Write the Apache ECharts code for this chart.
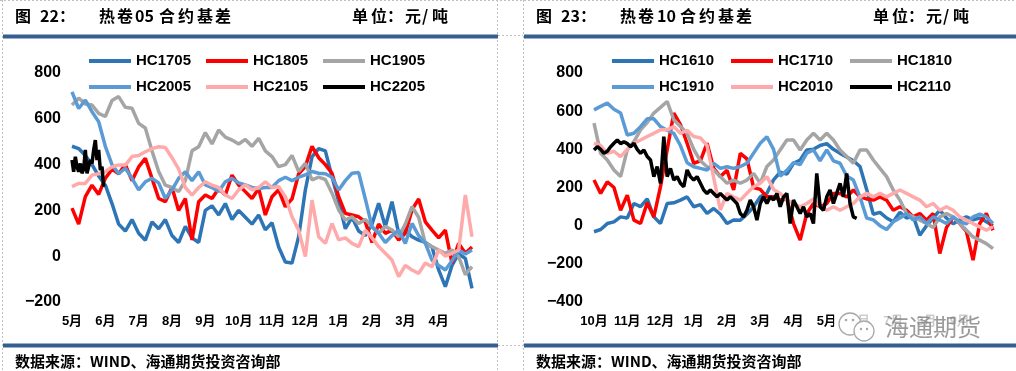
<!DOCTYPE html>
<html><head><meta charset="utf-8">
<script src="https://cdn.jsdelivr.net/npm/echarts@6/dist/echarts.min.js"></script>
<style>html,body{margin:0;padding:0;background:#fff;}#c{width:1016px;height:371px;}</style>
</head><body><div id="c"></div>
<script>
// ---------- data ----------
const monthsL = ['5月','6月','7月','8月','9月','10月','11月','12月','1月','2月','3月','4月'];
const monthsR = ['10月','11月','12月','1月','2月','3月','4月','5月','6月','7月','8月','9月'];
const namesL = ['HC1705','HC1805','HC1905','HC2005','HC2105','HC2205'];
const namesR = ['HC1610','HC1710','HC1810','HC1910','HC2010','HC2110'];

// left chart (05 contracts), one value every 0.2 month from 5月
const hc1705 = [480,470,440,400,350,310,230,140,110,160,
 100,70,150,120,160,90,60,130,80,60,
 200,220,180,230,160,200,170,140,180,115,
 146,40,-25,-30,85,289,434,470,460,347,
 240,120,170,110,90,140,231,129,238,100,
 114,85,70,60,40,-60,-133,-40,10,-10,-140];
const hc1805 = [210,140,260,310,270,340,380,360,400,330,
 390,427,340,252,238,300,200,252,71,238,
 267,252,296,267,354,311,282,252,296,180,
 260,290,216,250,360,391,480,430,400,362,
 260,187,180,172,150,60,140,100,114,71,
 100,202,250,150,114,80,114,-30,56,13,40];
const hc1905 = [660,690,665,660,624,610,680,697,650,646,
 580,560,460,370,310,300,282,330,460,478,
 540,490,551,520,507,490,510,480,515,460,
 435,391,400,440,370,406,333,345,335,275,
 202,158,172,143,160,129,100,130,114,85,
 140,216,170,56,42,27,13,27,-2,-80,-46];
const hc2005 = [718,645,682,631,587,480,400,360,384,340,
 290,325,340,320,252,290,340,369,330,369,
 311,300,282,325,340,320,311,300,296,300,
 300,330,345,330,345,355,370,362,360,345,
 289,330,362,365,250,129,100,60,90,114,
 56,143,90,56,-17,-40,-60,-20,27,10,27];
const hc2105 = [304,318,318,354,360,369,390,398,398,435,
 440,456,470,478,475,430,380,300,267,300,
 325,310,300,267,252,290,311,290,300,325,
 300,304,260,172,114,-2,245,85,56,143,
 71,80,56,42,114,80,42,13,-17,-89,
 -40,-60,-75,-30,-46,27,0,13,27,267,85];
// one value every 0.05 month
const hc2205 = [420,369,434,391,369,405,362,380,464,362,391,420,405,464,507,420,464,376,391,304];

// right chart (10 contracts), one value every 0.2 month from 10月
const hc1610 = [-32,-20,11,20,46,40,116,100,140,46,
 11,116,120,134,151,99,110,64,90,60,
 11,30,29,60,99,151,170,240,280,270,
 327,344,397,400,420,430,400,379,360,340,
 310,190,60,70,40,20,70,40,50,-50,
 0,40,81,40,10,30,46,30,40,20,0];
const hc1710 = [239,169,230,200,81,160,29,11,120,46,
 204,397,590,530,432,327,340,432,300,257,
 290,187,379,350,200,190,151,151,134,140,
 11,-76,64,116,99,116,169,169,150,187,
 151,140,134,151,134,81,99,81,46,64,
 29,64,-146,-10,46,11,-30,-181,11,64,-24];
const hc1810 = [537,379,344,292,257,397,440,502,540,590,
 620,651,555,520,484,400,340,309,292,257,
 222,239,222,239,274,222,310,344,397,449,
 449,397,449,484,449,484,449,397,362,327,
 397,397,344,300,257,187,134,64,46,29,
 11,-10,46,64,46,11,-24,-59,-76,-94,-120];
const hc1910 = [607,625,642,610,590,475,484,519,560,560,
 519,500,484,420,330,309,300,292,327,300,
 309,300,310,327,380,432,466,400,260,290,
 330,320,380,397,340,397,340,327,260,239,
 150,40,30,0,-20,20,40,64,30,46,
 11,46,30,11,46,20,10,46,60,46,11];
const hc2010 = [432,420,379,390,362,400,432,449,467,484,
 502,502,519,484,500,467,460,420,250,82,
 169,150,134,170,204,222,257,190,169,134,
 116,99,116,140,99,81,99,81,99,116,
 151,169,151,169,151,169,187,169,151,134,
 99,116,81,99,81,46,29,11,-6,-24,-6];
// one value every 0.1 month
const hc2110 = [397,414,400,379,390,414,432,449,430,440,
 430,414,432,400,379,397,362,344,257,310,
 222,466,257,300,239,257,222,204,292,257,
 239,257,222,187,169,187,169,151,169,151,
 134,151,134,116,64,46,81,134,99,29,
 116,151,116,151,134,169,99,151,169,11,
 134,99,64,99,46,64,11,274,99,81,
 151,187,116,169,222,151,274,116,46,38];

// ---------- styling / layout ----------
const FF = "'Liberation Sans','Noto Sans CJK SC',sans-serif";
const CJK = "'Noto Sans CJK SC','Liberation Sans',sans-serif";
const colors = ['#2E75B6','#FF0000','#A5A5A5','#5B9BD5','#FFAAAA','#000000'];
const dataL = [hc1705,hc1805,hc1905,hc2005,hc2105,hc2205];
const stepL = [0.2,0.2,0.2,0.2,0.2,0.05];
const dataR = [hc1610,hc1710,hc1810,hc1910,hc2010,hc2110];
const stepR = [0.2,0.2,0.2,0.2,0.2,0.1];

function pts(arr, step){ return arr.map((v,i)=>[Math.round(i*step*1000)/1000, v]); }

const series = [];
namesL.forEach((n,i)=>series.push({type:'line',name:n,xAxisIndex:0,yAxisIndex:0,data:pts(dataL[i],stepL[i]),
  showSymbol:false,symbol:'none',color:colors[i],lineStyle:{width:3.5,color:colors[i]},itemStyle:{color:colors[i]},z:2+i}));
namesR.forEach((n,i)=>series.push({type:'line',name:n,xAxisIndex:1,yAxisIndex:1,data:pts(dataR[i],stepR[i]),
  showSymbol:false,symbol:'none',color:colors[i],lineStyle:{width:3.5,color:colors[i]},itemStyle:{color:colors[i]},z:2+i}));

function mkX(gi, labels){
  return {type:'value',gridIndex:gi,min:0,max:12,interval:1,
    axisLine:{show:false},axisTick:{show:false},splitLine:{show:false},
    axisLabel:{margin:13,fontSize:13,fontWeight:'bold',color:'#000',fontFamily:FF,
      formatter:v=>labels[v]||''}};
}
function mkY(gi,min,max){
  return {type:'value',gridIndex:gi,min:min,max:max,interval:200,
    axisLine:{show:false},axisTick:{show:false},splitLine:{show:false},
    axisLabel:{margin:11,fontSize:16,fontWeight:'bold',color:'#000',fontFamily:FF,
      formatter:v=>String(v).replace('-','\u2212')}};
}
const legends = [];
function addLegend(name,left,top){
  legends.push({data:[{name:name,icon:'rect'}],left:left,top:top,padding:0,itemWidth:42,itemHeight:4,itemGap:0,
    selectedMode:false,textStyle:{fontSize:15,fontWeight:'bold',color:'#000',fontFamily:FF}});
}
const colL=[89,206,323], colR=[612,731,850], rows=[53.5,79.5];
namesL.forEach((n,i)=>addLegend(n,colL[i%3],rows[Math.floor(i/3)]));
namesR.forEach((n,i)=>addLegend(n,colR[i%3],rows[Math.floor(i/3)]));

const g = [];
function txt(t,x,y,size,opt){
  opt=opt||{};
  g.push({type:'text',x:x,y:y,z:opt.z||10,style:{text:t,font:(opt.weight||'bold')+' '+size+'px '+(opt.family||CJK),
    fill:opt.fill||'#000',textAlign:'left',textVerticalAlign:'middle',align:'left',verticalAlign:'middle'}});
}
function rect(x,y,w,h,fill,z){ g.push({type:'rect',z:z||5,shape:{x:x,y:y,width:w,height:h},style:{fill:fill}}); }
function dline(x1,y1,x2,y2){ g.push({type:'line',z:1,shape:{x1:x1,y1:y1,x2:x2,y2:y2},style:{stroke:'#BFBFBF',lineWidth:1,lineDash:[2,2]}}); }

// cell borders
dline(0,0.5,1016,0.5);
dline(2.5,0,2.5,371);
dline(497.5,0,497.5,371);
dline(523.5,0,523.5,371);
dline(498,35.5,523,35.5);
dline(498,345.5,523,345.5);
// blue rules
rect(3,34.5,495,4,'#365F91');
rect(524,34.5,492,4,'#365F91');
rect(3,343.5,495,4,'#365F91');
rect(524,343.5,492,4,'#365F91');

// titles
[['图',15],['22：',40],['热',99],['卷',117],['05',135],['合',159],['约',178],['基',197],['差',215],
 ['单',352],['位',371],['：',387],['元',405],['/',422],['吨',432]].forEach(p=>txt(p[0],p[1],16,16));
[['图',536],['23：',561],['热',620],['卷',638],['10',657],['合',680],['约',699],['基',718],['差',736],
 ['单',873],['位',892],['：',908],['元',926],['/',943],['吨',953]].forEach(p=>txt(p[0],p[1],16,16));
// sources
txt('数据来源：WIND、海通期货投资咨询部',15,361,15);
txt('数据来源：WIND、海通期货投资咨询部',536,361,15);

// watermark
rect(834,310,156,33,'rgba(255,255,255,0.8)',50);
g.push({type:'circle',z:51,shape:{cx:850,cy:324,r:11},style:{fill:'rgba(255,255,255,0.9)',stroke:'#A8A8A8',lineWidth:1.3}});
g.push({type:'circle',z:52,shape:{cx:864,cy:331,r:10},style:{fill:'rgba(255,255,255,0.95)',stroke:'#A8A8A8',lineWidth:1.3}});
g.push({type:'circle',z:53,shape:{cx:846,cy:320,r:1.3},style:{fill:'#A8A8A8'}});
g.push({type:'circle',z:53,shape:{cx:853,cy:320,r:1.3},style:{fill:'#A8A8A8'}});
g.push({type:'circle',z:53,shape:{cx:861,cy:329,r:1.2},style:{fill:'#A8A8A8'}});
g.push({type:'circle',z:53,shape:{cx:867,cy:329,r:1.2},style:{fill:'#A8A8A8'}});
txt('海通期货',885,327,24,{weight:'normal',fill:'rgba(120,120,120,0.75)',z:54});

const chart = echarts.init(document.getElementById('c'),null,{renderer:'canvas'});
chart.setOption({
  animation:false,
  backgroundColor:'#fff',
  grid:[{left:72,top:73,width:400,height:229,outerBoundsMode:'none'},
        {left:594,top:73,width:399,height:229,outerBoundsMode:'none'}],
  xAxis:[mkX(0,monthsL),mkX(1,monthsR)],
  yAxis:[mkY(0,-200,800),mkY(1,-400,800)],
  legend:legends,
  series:series,
  graphic:{elements:g}
});
</script></body></html>
